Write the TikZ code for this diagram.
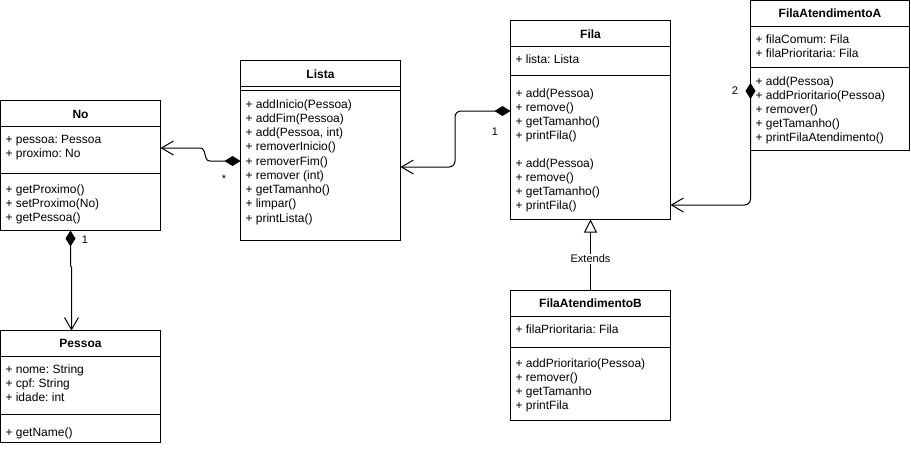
\documentclass[tikz,border=0pt]{standalone}
\usepackage{fontspec}
\setmainfont{Liberation Sans}
\frenchspacing
\usetikzlibrary{arrows.meta}

\begin{document}
\begin{tikzpicture}[x=1pt,y=-1pt,line width=1pt,
    box/.style={draw,anchor=north west,inner sep=0pt,outer sep=0pt},
    head/.style={anchor=base,inner sep=0pt,font=\bfseries\fontsize{12}{14}\selectfont},
    memb/.style={anchor=base west,inner sep=0pt,font=\fontsize{12}{14}\selectfont},
    mult/.style={inner sep=0pt,font=\fontsize{11}{13}\selectfont},
    comp/.style={arrows={Diamond[length=16pt,width=10pt]-Straight Barb[length=12pt,width=14pt]}},
    ext/.style={-{Triangle[open,length=13pt,width=13pt]}}]
    \useasboundingbox (0,0) rectangle (911,448);

    % classes
    \node[box,minimum width=160,minimum height=130] (no)     at (0.5,100.5) {};
    \node[box,minimum width=160,minimum height=112] (pessoa) at (0.5,330.5) {};
    \node[box,minimum width=160,minimum height=180] (lista)  at (240.5,60.5) {};
    \node[box,minimum width=160,minimum height=199] (fila)   at (510.5,20.5) {};
    \node[box,minimum width=159,minimum height=150] (filaA)  at (750.5,0.5) {};
    \node[box,minimum width=160,minimum height=130] (filaB)  at (510.5,290.5) {};

    \foreach \c/\a/\b in {no/126.5/173.5, pessoa/356.5/414.5, lista/86.5/90.5,
                          fila/46.5/75.5, filaA/26.5/67.5, filaB/316.5/347.5}{%
        \draw (\c.west |- 0,\a) -- (\c.east |- 0,\a);
        \draw (\c.west |- 0,\b) -- (\c.east |- 0,\b);}

    % No
    \node[head] (no-t) at (no.north |- 0,118) {No};
    \foreach \t [count=\i from 0] in {+ pessoa: Pessoa, + proximo: No}
        \node[memb] (no-a\i) at (5,143+14*\i) {\t};
    \foreach \t [count=\i from 0] in {+ getProximo(), + setProximo(No), + getPessoa()}
        \node[memb] (no-m\i) at (5,193+14*\i) {\t};

    % Pessoa
    \node[head] (pessoa-t) at (pessoa.north |- 0,347) {Pessoa};
    \foreach \t [count=\i from 0] in {+ nome: String, + cpf: String, + idade: int}
        \node[memb] (pessoa-a\i) at (5,373+14*\i) {\t};
    \node[memb] (pessoa-m0) at (5,436) {+ getName()};

    % Lista
    \node[head] (lista-t) at (lista.north |- 0,78) {Lista};
    \foreach \t [count=\i from 0] in {+ addInicio(Pessoa), + addFim(Pessoa), {+ add(Pessoa, int)},
        + removerInicio(), + removerFim(), + remover (int), + getTamanho(), + limpar(), + printLista()}
        \node[memb] (lista-m\i) at (245,108+14.25*\i) {\t};

    % Fila
    \node[head] (fila-t) at (fila.north |- 0,38) {Fila};
    \node[memb] (fila-a0) at (515,63) {+ lista: Lista};
    \foreach \t [count=\i from 0] in {+ add(Pessoa), + remove(), + getTamanho(), + printFila()}{%
        \node[memb] (fila-m\i) at (515,97+14*\i) {\t};
        \node[memb] (fila-n\i) at (515,167+14*\i) {\t};}

    % FilaAtendimentoA
    \node[head] (filaA-t) at (filaA.north |- 0,17) {FilaAtendimentoA};
    \foreach \t [count=\i from 0] in {+ filaComum: Fila, + filaPrioritaria: Fila}
        \node[memb] (filaA-a\i) at (755,43+14*\i) {\t};
    \foreach \t [count=\i from 0] in {+ add(Pessoa), + addPrioritario(Pessoa), + remover(),
        + getTamanho(), + printFilaAtendimento()}
        \node[memb] (filaA-m\i) at (755,85+14*\i) {\t};

    % FilaAtendimentoB
    \node[head] (filaB-t) at (filaB.north |- 0,307) {FilaAtendimentoB};
    \node[memb] (filaB-a0) at (515,333) {+ filaPrioritaria: Fila};
    \foreach \t [count=\i from 0] in {+ addPrioritario(Pessoa), + remover(), + getTamanho, + printFila}
        \node[memb] (filaB-m\i) at (515,367+14*\i) {\t};

    % relations
    \draw[comp] (lista.west |- 0,161) -- (210,161) .. controls (203,161) and (207,148) .. (200,148)
        -- (no.east |- 0,148);
    \draw[comp,rounded corners=6pt] (fila.west |- 0,111) -| (455,140) |- (lista.east |- 0,167);
    \draw[comp,rounded corners=6pt] (filaA.west |- 0,83) |- (fila.east |- 0,205);
    \draw[comp] (no.south -| 70.5,0) -- (70.5,266) -- (71.5,267) -- (pessoa.north -| 71.5,0);
    \draw[ext] (filaB.north) -- node[mult,fill=white,inner sep=1pt,pos=0.45] (ext-l) {Extends} (fila.south);

    \node[mult] (m-lista) at (224,179) {*};
    \node[mult] (m-fila)  at (495,132) {1};
    \node[mult] (m-filaA) at (735,91) {2};
    \node[mult] (m-no)    at (85,240) {1};
\end{tikzpicture}
\end{document}
